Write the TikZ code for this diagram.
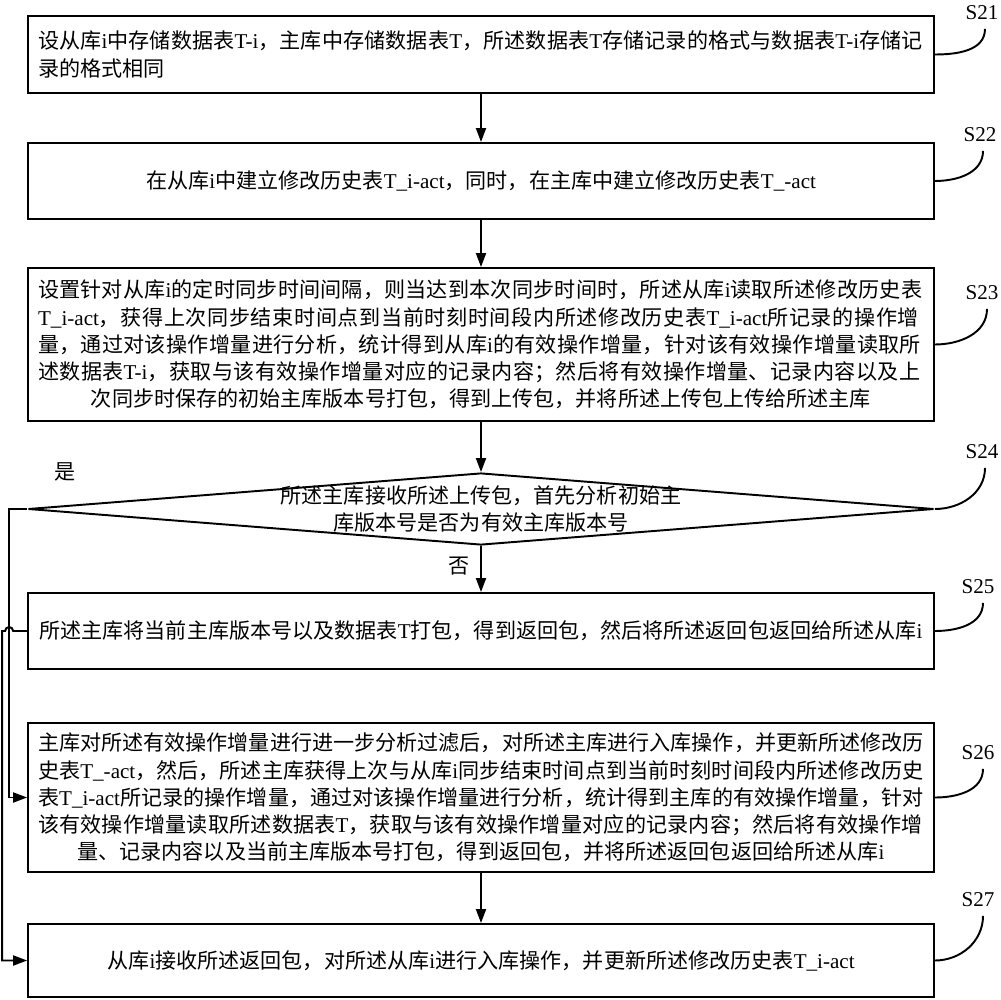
\documentclass[tikz,border=0pt]{standalone}
\usepackage{fontspec}
\setmainfont{Noto Sans CJK SC}
\newfontfamily\latinfont{Liberation Serif}
\usetikzlibrary{shapes.geometric, arrows.meta}
\XeTeXlinebreaklocale "zh"
\XeTeXlinebreakskip=0pt plus 3pt
\setlength{\parindent}{0pt}
\tolerance=9999
\newcommand{\lat}[1]{{\latinfont #1}}
\newcommand{\lastline}[1]{\hspace*{0pt plus 1fil}#1\hspace*{0pt plus 1fil}{\parfillskip=0pt\par}}
\newcommand{\midline}[1]{\makebox[\hsize]{#1}}

\begin{document}
\begin{tikzpicture}[x=0.02cm, y=0.02cm, font=\fontsize{12}{15.5}\selectfont,
  stepbox/.style={draw, line width=1.1pt, minimum width=18.12cm,
                  text width=17.72cm, inner sep=0pt},
  decision/.style={diamond, draw, line width=1.1pt, minimum width=18.12cm,
                   minimum height=1.44cm, inner sep=0pt},
  arr/.style={-{Triangle[length=0.28cm,width=0.2cm]}, line width=1.1pt},
  tie/.style={line width=1.1pt},
  tag/.style={font=\latinfont\fontsize{12}{14}\selectfont, inner sep=0pt, outer sep=5pt}]

  \useasboundingbox (0,0) rectangle (1000,-1000);

  % Steps
  \node[stepbox, minimum height=1.54cm] (s21) at (481,-54.5)
    {设从库\lat{i}中存储数据表\lat{T-i}，主库中存储数据表\lat{T}，所述数据表\lat{T}存储记录的格式与数据表\lat{T-i}存储记\linebreak
     录的格式相同};
  \node[stepbox, minimum height=1.52cm] (s22) at (481,-181)
    {\lastline{在从库\lat{i}中建立修改历史表\lat{T\_i-act}，同时，在主库中建立修改历史表\lat{T\_-act}}};
  \node[stepbox, minimum height=3.06cm] (s23) at (481,-344.5)
    {设置针对从库\lat{i}的定时同步时间间隔，则当达到本次同步时间时，所述从库\lat{i}读取所述修改历史表\linebreak
     \lat{T\_i-act}，获得上次同步结束时间点到当前时刻时间段内所述修改历史表\lat{T\_i-act}所记录的操作增\linebreak
     量，通过对该操作增量进行分析，统计得到从库\lat{i}的有效操作增量，针对该有效操作增量读取所\linebreak
     述数据表\lat{T-i}，获取与该有效操作增量对应的记录内容；然后将有效操作增量、记录内容以及上\linebreak
     \midline{次同步时保存的初始主库版本号打包，得到上传包，并将所述上传包上传给所述主库}};

  % Decision
  \node[decision] (s24) at (481,-509) {};
  \node[align=center] (s24t) at (s24)
    {所述主库接收所述上传包，首先分析初始主\\库版本号是否为有效主库版本号};

  \node[stepbox, minimum height=1.52cm] (s25) at (481,-631)
    {\lastline{所述主库将当前主库版本号以及数据表\lat{T}打包，得到返回包，然后将所述返回包返回给所述从库\lat{i}}};
  \node[stepbox, minimum height=2.98cm] (s26) at (481,-797.5)
    {主库对所述有效操作增量进行进一步分析过滤后，对所述主库进行入库操作，并更新所述修改历\linebreak
     史表\lat{T\_-act}，然后，所述主库获得上次与从库\lat{i}同步结束时间点到当前时刻时间段内所述修改历史\linebreak
     表\lat{T\_i-act}所记录的操作增量，通过对该操作增量进行分析，统计得到主库的有效操作增量，针对\linebreak
     该有效操作增量读取所述数据表\lat{T}，获取与该有效操作增量对应的记录内容；然后将有效操作增\linebreak
     \midline{量、记录内容以及当前主库版本号打包，得到返回包，并将所述返回包返回给所述从库\lat{i}}};
  \node[stepbox, minimum height=1.46cm] (s27) at (481,-960.5)
    {\lastline{从库\lat{i}接收所述返回包，对所述从库\lat{i}进行入库操作，并更新所述修改历史表\lat{T\_i-act}}};

  % Branch labels
  \node (yes) at (65,-472) {是};
  \node (no) at (459,-566) {否};

  % Step tags
  \node[tag] (l21) at (982,-13) {S21};
  \node[tag] (l22) at (980,-135) {S22};
  \node[tag] (l23) at (982,-293) {S23};
  \node[tag] (l24) at (982,-452) {S24};
  \node[tag] (l25) at (978,-587) {S25};
  \node[tag] (l26) at (978,-753) {S26};
  \node[tag] (l27) at (978,-900) {S27};

  \draw[tie] (s21.east) to[out=0,in=-90] ([xshift=0.06cm]l21.south);
  \draw[tie] (s22.east) to[out=0,in=-90] ([xshift=0.06cm]l22.south);
  \draw[tie] (s23.east) to[out=0,in=-90] ([xshift=0.1cm]l23.south);
  \draw[tie] (s24.east) to[out=0,in=-90] ([xshift=0.06cm]l24.south);
  \draw[tie] (s25.east) to[out=0,in=-90] ([xshift=0.1cm]l25.south);
  \draw[tie] (s26.east) to[out=0,in=-90] ([xshift=0.1cm]l26.south);
  \draw[tie] (s27.east) to[out=0,in=-90] ([xshift=0.1cm]l27.south);

  % Flow
  \draw[arr] (s21) -- (s22);
  \draw[arr] (s22) -- (s23);
  \draw[arr] (s23) -- (s24.north);
  \draw[arr] (s24.south) -- (s25);
  \draw[arr] (s26) -- (s27);
  \draw[arr] (s24.west) -- ++(-18,0) |- (s26.west);
  \draw[arr] (s25.west) -- ++(-14,0) arc (0:180:4) -- ++(-3,0) |- (s27.west);

\end{tikzpicture}
\end{document}
